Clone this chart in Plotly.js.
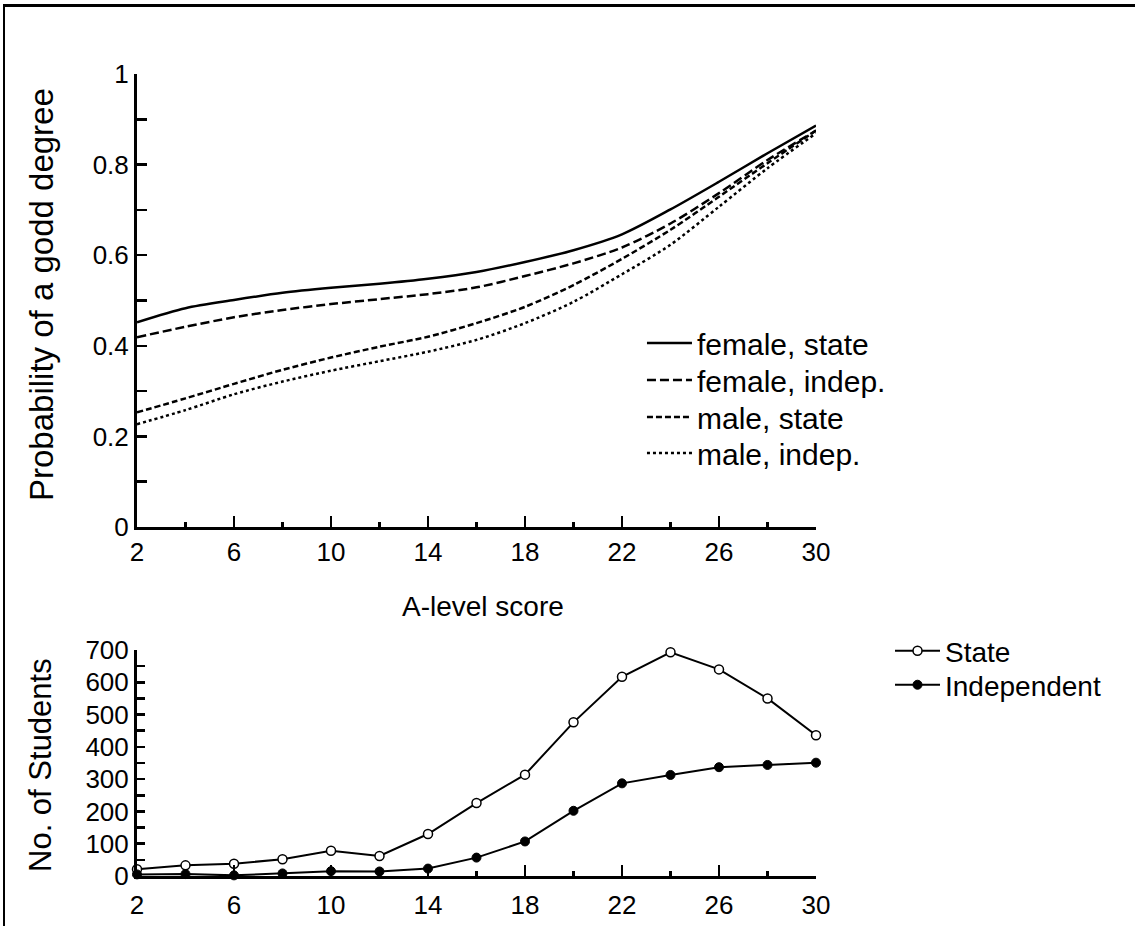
<!DOCTYPE html>
<html>
<head>
<meta charset="utf-8">
<script src="https://cdn.plot.ly/plotly-3.0.1.min.js"></script>
<style>
  html, body { margin: 0; padding: 0; background: #fff; }
  #wrap { position: relative; width: 1135px; height: 926px; overflow: hidden; }
  #chart { position: absolute; left: 0; top: 0; width: 1135px; height: 926px; }
  #frame { position: absolute; left: 3px; top: 4px; width: 1140px; height: 930px;
           border-top: 3px solid #000; border-left: 2px solid #000; pointer-events: none; }
</style>
</head>
<body>
<div id="wrap">
  <div id="chart"></div>
  <div id="frame"></div>
</div>
<script>
// ---- Data ----
const scores = [2, 4, 6, 8, 10, 12, 14, 16, 18, 20, 22, 24, 26, 28, 30];

// Probability of a good degree
const femaleState = [0.452, 0.483, 0.501, 0.517, 0.528, 0.537, 0.548, 0.563, 0.585, 0.611, 0.646, 0.701, 0.762, 0.825, 0.886];
const femaleIndep = [0.419, 0.442, 0.463, 0.479, 0.492, 0.503, 0.514, 0.529, 0.554, 0.582, 0.617, 0.670, 0.737, 0.810, 0.875];
const maleState   = [0.253, 0.284, 0.316, 0.347, 0.374, 0.398, 0.420, 0.450, 0.486, 0.534, 0.592, 0.656, 0.729, 0.803, 0.875];
const maleIndep   = [0.227, 0.258, 0.293, 0.321, 0.345, 0.366, 0.387, 0.413, 0.450, 0.497, 0.558, 0.623, 0.707, 0.792, 0.869];

// Number of students
const stateCounts = [21, 33, 38, 52, 78, 62, 130, 226, 314, 476, 617, 693, 640, 550, 436];
const indepCounts = [5, 6, 2, 8, 15, 14, 23, 57, 107, 202, 287, 313, 337, 344, 351];

// Labels
const seriesNames = ["female, state", "female, indep.", "male, state", "male, indep."];
const countNames = ["State", "Independent"];
const xTickVals = [2, 6, 10, 14, 18, 22, 26, 30];

// ---- Styling ----
const FONT = "Liberation Sans, Arial, sans-serif";
const TICKF = { family: FONT, size: 26, color: "#000" };
const LEGF = { family: FONT, size: 30, color: "#000" };
const LEGF2 = { family: FONT, size: 28, color: "#000" };

const probLine = (y, name, dash, leg) => ({
  x: scores, y: y, name: name, type: "scatter", mode: "lines",
  line: { color: "#000", width: 2.5, dash: dash, shape: "spline", smoothing: 0.8 },
  xaxis: "x", yaxis: "y", legend: leg, hoverinfo: "x+y"
});

const traces = [
  probLine(femaleState, seriesNames[0], "solid", "legend"),
  probLine(femaleIndep, seriesNames[1], "9px,4px", "legend2"),
  probLine(maleState, seriesNames[2], "6px,3px", "legend3"),
  probLine(maleIndep, seriesNames[3], "3px,3px", "legend4"),
  {
    x: scores, y: stateCounts, name: countNames[0], type: "scatter", mode: "lines+markers",
    line: { color: "#000", width: 2 },
    marker: { symbol: "circle", size: 9, color: "#fff", line: { color: "#000", width: 1.5 } },
    xaxis: "x2", yaxis: "y2", legend: "legend5", cliponaxis: false
  },
  {
    x: scores, y: indepCounts, name: countNames[1], type: "scatter", mode: "lines+markers",
    line: { color: "#000", width: 2 },
    marker: { symbol: "circle", size: 9, color: "#000", line: { color: "#000", width: 1 } },
    xaxis: "x2", yaxis: "y2", legend: "legend6", cliponaxis: false
  }
];

const baseX = {
  range: [2, 30], tickmode: "array", tickvals: xTickVals,
  ticks: "inside", ticklen: 11, tickwidth: 2.5, tickcolor: "#000",
  minor: { tickmode: "linear", tick0: 2, dtick: 2, ticks: "inside", ticklen: 5, tickwidth: 2.5, tickcolor: "#000" },
  showline: true, linecolor: "#000", linewidth: 3, showgrid: false, zeroline: false,
  tickfont: TICKF, fixedrange: true
};

const legBase = (x, y, f) => ({
  x: x, y: y, xanchor: "left", yanchor: "middle",
  bgcolor: "rgba(0,0,0,0)", borderwidth: 0, font: f,
  itemwidth: 45, tracegroupgap: 0
});

const layout = {
  width: 1135, height: 926,
  margin: { l: 137, r: 319, t: 60, b: 40 },
  paper_bgcolor: "#fff", plot_bgcolor: "rgba(0,0,0,0)",
  font: { family: FONT, color: "#000" },
  showlegend: true,
  xaxis: Object.assign({}, baseX, { anchor: "y" }),
  yaxis: {
    domain: [0.4346, 0.9831], range: [0, 1], anchor: "x",
    tickmode: "linear", tick0: 0, dtick: 0.2,
    ticks: "inside", ticklen: 10, tickwidth: 2.5, tickcolor: "#000",
    minor: { tickmode: "linear", tick0: 0, dtick: 0.1, ticks: "inside", ticklen: 10, tickwidth: 2.5, tickcolor: "#000" },
    showline: true, linecolor: "#000", linewidth: 3, showgrid: false, zeroline: false,
    tickfont: TICKF, fixedrange: true
  },
  xaxis2: Object.assign({}, baseX, { anchor: "y2", ticklabelstandoff: 4 }),
  yaxis2: {
    domain: [0.0121, 0.2857], range: [0, 700], anchor: "x2",
    tickmode: "linear", tick0: 0, dtick: 100,
    ticks: "inside", ticklen: 8, tickwidth: 2.5, tickcolor: "#000",
    minor: { tickmode: "linear", tick0: 0, dtick: 50, ticks: "inside", ticklen: 8, tickwidth: 2.5, tickcolor: "#000" },
    showline: true, linecolor: "#000", linewidth: 3, showgrid: false, zeroline: false,
    tickfont: TICKF, fixedrange: true
  },
  legend: legBase(0.7437, 0.6574, LEGF),
  legend2: legBase(0.7437, 0.6126, LEGF),
  legend3: legBase(0.7437, 0.5678, LEGF),
  legend4: legBase(0.7437, 0.5242, LEGF),
  legend5: legBase(1.109, 0.2845, LEGF2),
  legend6: legBase(1.109, 0.2433, LEGF2),
  annotations: [
    { text: "Probability of a godd degree", xref: "paper", yref: "paper",
      x: -0.1414, y: 0.7167, xanchor: "center", yanchor: "middle", textangle: -90,
      showarrow: false, font: { family: FONT, size: 33, color: "#000" } },
    { text: "A-level score", xref: "paper", yref: "paper",
      x: 0.51, y: 0.338, xanchor: "center", yanchor: "middle",
      showarrow: false, font: { family: FONT, size: 28, color: "#000" } },
    { text: "No. of Students", xref: "paper", yref: "paper",
      x: -0.1414, y: 0.1465, xanchor: "center", yanchor: "middle", textangle: -90,
      showarrow: false, font: { family: FONT, size: 31, color: "#000" } }
  ]
};

Plotly.newPlot("chart", traces, layout, { displayModeBar: false, staticPlot: true });
</script>
</body>
</html>
